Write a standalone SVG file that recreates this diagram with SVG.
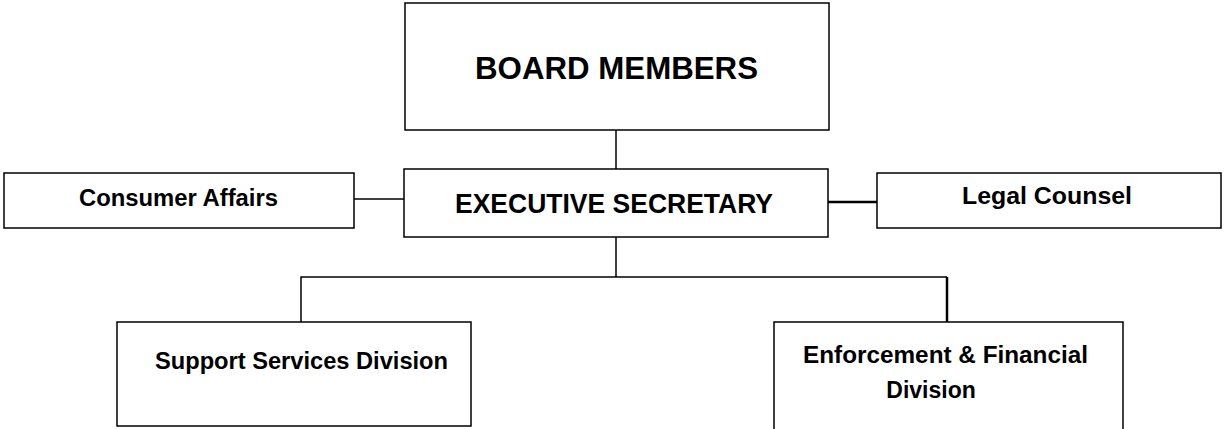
<svg xmlns="http://www.w3.org/2000/svg" width="1225" height="429" viewBox="0 0 1225 429">
<style>
.box{fill:#fff;stroke:#000;stroke-width:1.5}
.ln{fill:none;stroke:#000;stroke-width:1.5}
.thk{stroke-width:2.5}
text{font-family:"Liberation Sans",Arial,sans-serif;font-weight:bold;fill:#000}
.sm{font-size:23px}
</style>
<rect width="1225" height="429" fill="#fff"/>
<g id="connectors">
<path class="ln" d="M616,130V169"/>
<path class="ln" d="M354,199H404"/>
<path class="ln thk" d="M828,202H877"/>
<path class="ln" d="M616,237V277M301,322V277H947"/>
<path class="ln thk" d="M947,277V322"/>
</g>
<g id="board">
<rect class="box" x="405" y="3" width="424" height="127"/>
<text x="475" y="79" font-size="31" textLength="283" lengthAdjust="spacingAndGlyphs">BOARD MEMBERS</text>
</g>
<g id="exec">
<rect class="box" x="404" y="169" width="424" height="68"/>
<text x="455" y="213" font-size="27" textLength="318" lengthAdjust="spacingAndGlyphs">EXECUTIVE SECRETARY</text>
</g>
<g id="consumer">
<rect class="box" x="4" y="173" width="350" height="55"/>
<text class="sm" x="79" y="206" textLength="199" lengthAdjust="spacingAndGlyphs">Consumer Affairs</text>
</g>
<g id="legal">
<rect class="box" x="877" y="173" width="344" height="55"/>
<text class="sm" x="962" y="204" textLength="170" lengthAdjust="spacingAndGlyphs">Legal Counsel</text>
</g>
<g id="support">
<rect class="box" x="117" y="322" width="354" height="104"/>
<text class="sm" x="155" y="369" textLength="293" lengthAdjust="spacingAndGlyphs">Support Services Division</text>
</g>
<g id="enforcement">
<rect class="box" x="774" y="322" width="349" height="112"/>
<text class="sm" x="803" y="363" textLength="285" lengthAdjust="spacingAndGlyphs">Enforcement &amp; Financial</text>
<text class="sm" x="931" y="398" text-anchor="middle">Division</text>
</g>
</svg>
